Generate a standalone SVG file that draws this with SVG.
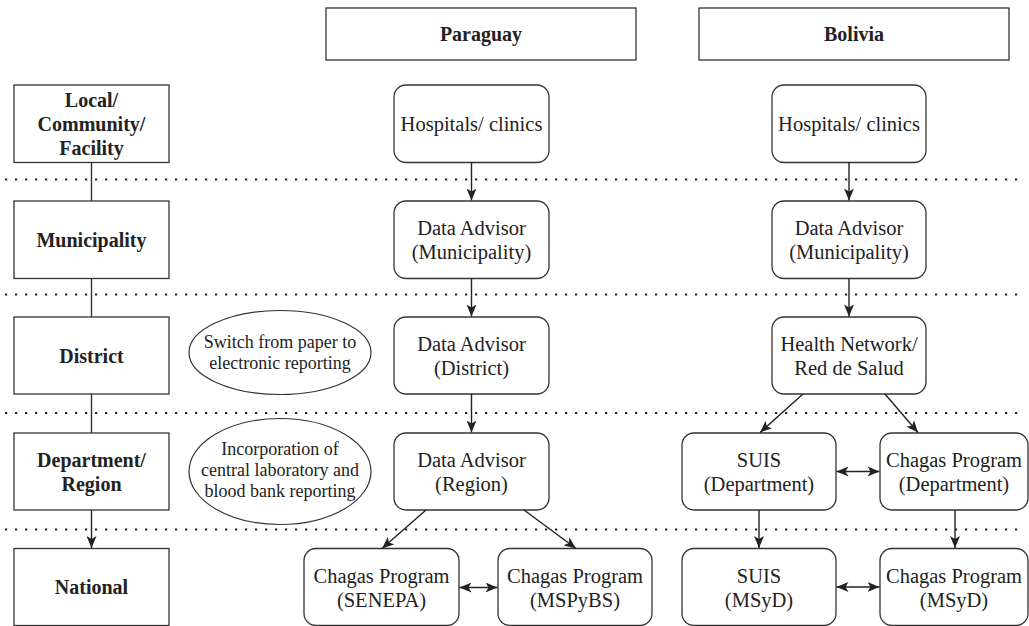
<svg xmlns="http://www.w3.org/2000/svg" width="1029" height="626" viewBox="0 0 1029 626">
<defs>
<style>
.hdr{fill:#fff;stroke:#333;stroke-width:1.3}
.nd{fill:#fff;stroke:#333;stroke-width:1.3}
.ell{fill:#fff;stroke:#333;stroke-width:1.2}
.t{font-family:"Liberation Serif","Times New Roman",serif;font-size:20.5px;fill:#222;text-anchor:middle}
.b{font-family:"Liberation Serif","Times New Roman",serif;font-size:20px;font-weight:bold;fill:#222;text-anchor:middle}
.s{font-family:"Liberation Serif","Times New Roman",serif;font-size:18px;fill:#222;text-anchor:middle}
.dot{stroke:#222;stroke-width:2.2;stroke-dasharray:2.2 7.8;fill:none}
.c{stroke:#333;stroke-width:1.4;fill:none}
.a{stroke:#222;stroke-width:1.4;fill:none;marker-end:url(#ah)}
.d{stroke:#222;stroke-width:1.4;fill:none;marker-end:url(#ah);marker-start:url(#ah2)}
</style>
<marker id="ah" viewBox="0 0 12 10" refX="12" refY="5" markerWidth="12" markerHeight="10" markerUnits="userSpaceOnUse" orient="auto">
<path d="M0,0 L12,5 L0,10 L3,5 Z" fill="#222"/>
</marker>
<marker id="ah2" viewBox="0 0 12 10" refX="12" refY="5" markerWidth="12" markerHeight="10" markerUnits="userSpaceOnUse" orient="auto-start-reverse">
<path d="M0,0 L12,5 L0,10 L3,5 Z" fill="#222"/>
</marker>
</defs>
<rect width="1029" height="626" fill="#fff"/>

<g id="separators">
<line class="dot" x1="5" y1="179.5" x2="1020" y2="179.5"/>
<line class="dot" x1="5" y1="294.5" x2="1020" y2="294.5"/>
<line class="dot" x1="5" y1="413" x2="1020" y2="413"/>
<line class="dot" x1="5" y1="529.5" x2="1020" y2="529.5"/>
</g>

<g id="header-paraguay"><rect class="hdr" x="326" y="8" width="310" height="52"/><text class="b" x="481" y="41">Paraguay</text></g>
<g id="header-bolivia"><rect class="hdr" x="699" y="8" width="310" height="52"/><text class="b" x="854" y="41">Bolivia</text></g>

<g id="level-local"><rect class="hdr" x="14" y="85" width="155" height="77.5"/><text class="b" x="91.5" y="107">Local/</text><text class="b" x="91.5" y="131">Community/</text><text class="b" x="91.5" y="155">Facility</text></g>
<g id="level-municipality"><rect class="hdr" x="14" y="201" width="155" height="77.5"/><text class="b" x="91.5" y="246.5">Municipality</text></g>
<g id="level-district"><rect class="hdr" x="14" y="317" width="155" height="77"/><text class="b" x="91.5" y="362.5">District</text></g>
<g id="level-department"><rect class="hdr" x="14" y="433" width="155" height="77"/><text class="b" x="91.5" y="467">Department/</text><text class="b" x="91.5" y="491">Region</text></g>
<g id="level-national"><rect class="hdr" x="14" y="548.5" width="155" height="77"/><text class="b" x="91.5" y="594">National</text></g>

<g id="note-switch"><ellipse class="ell" cx="280" cy="352.5" rx="91" ry="42"/><text class="s" x="280" y="348">Switch from paper to</text><text class="s" x="280" y="369">electronic reporting</text></g>
<g id="note-incorporation"><ellipse class="ell" cx="280" cy="471.5" rx="91" ry="53"/><text class="s" x="280" y="455">Incorporation of</text><text class="s" x="280" y="476">central laboratory and</text><text class="s" x="280" y="497">blood bank reporting</text></g>

<g id="py-hospitals"><rect class="nd" x="394" y="85" width="155" height="77.5" rx="12"/><text class="t" x="471.5" y="131">Hospitals/ clinics</text></g>
<g id="py-municipality"><rect class="nd" x="394" y="201" width="155" height="77.5" rx="12"/><text class="t" x="471.5" y="235">Data Advisor</text><text class="t" x="471.5" y="259">(Municipality)</text></g>
<g id="py-district"><rect class="nd" x="394" y="317" width="155" height="77" rx="12"/><text class="t" x="471.5" y="351">Data Advisor</text><text class="t" x="471.5" y="375">(District)</text></g>
<g id="py-region"><rect class="nd" x="394" y="433" width="155" height="77" rx="12"/><text class="t" x="471.5" y="467">Data Advisor</text><text class="t" x="471.5" y="491">(Region)</text></g>
<g id="py-senepa"><rect class="nd" x="304" y="548.5" width="155" height="77" rx="12"/><text class="t" x="381.5" y="583">Chagas Program</text><text class="t" x="381.5" y="607">(SENEPA)</text></g>
<g id="py-mspybs"><rect class="nd" x="498" y="548.5" width="154" height="77" rx="12"/><text class="t" x="575" y="583">Chagas Program</text><text class="t" x="575" y="607">(MSPyBS)</text></g>

<g id="bo-hospitals"><rect class="nd" x="772" y="85" width="154" height="77.5" rx="12"/><text class="t" x="849" y="131">Hospitals/ clinics</text></g>
<g id="bo-municipality"><rect class="nd" x="772" y="201" width="154" height="77.5" rx="12"/><text class="t" x="849" y="235">Data Advisor</text><text class="t" x="849" y="259">(Municipality)</text></g>
<g id="bo-healthnet"><rect class="nd" x="772" y="317" width="154" height="77" rx="12"/><text class="t" x="849" y="351">Health Network/</text><text class="t" x="849" y="375">Red de Salud</text></g>
<g id="bo-suis-dept"><rect class="nd" x="682" y="433" width="154" height="77" rx="12"/><text class="t" x="759" y="467">SUIS</text><text class="t" x="759" y="491">(Department)</text></g>
<g id="bo-chagas-dept"><rect class="nd" x="880" y="433" width="148" height="77" rx="12"/><text class="t" x="954" y="467">Chagas Program</text><text class="t" x="954" y="491">(Department)</text></g>
<g id="bo-suis-msyd"><rect class="nd" x="682" y="548.5" width="154" height="77" rx="12"/><text class="t" x="759" y="583">SUIS</text><text class="t" x="759" y="607">(MSyD)</text></g>
<g id="bo-chagas-msyd"><rect class="nd" x="880" y="548.5" width="148" height="77" rx="12"/><text class="t" x="954" y="583">Chagas Program</text><text class="t" x="954" y="607">(MSyD)</text></g>

<g id="connectors">
<line class="c" x1="91.5" y1="162.5" x2="91.5" y2="201"/>
<line class="c" x1="91.5" y1="278.5" x2="91.5" y2="317"/>
<line class="c" x1="91.5" y1="394" x2="91.5" y2="433"/>
<line class="a" x1="91.5" y1="510" x2="91.5" y2="548"/>

<line class="a" x1="471.5" y1="162.5" x2="471.5" y2="200.5"/>
<line class="a" x1="471.5" y1="278.5" x2="471.5" y2="316.5"/>
<line class="a" x1="471.5" y1="394" x2="471.5" y2="432.5"/>
<line class="a" x1="426" y1="510" x2="382" y2="548.5"/>
<line class="a" x1="524" y1="510" x2="576" y2="548.5"/>
<line class="d" x1="459.5" y1="587.5" x2="497.5" y2="587.5"/>

<line class="a" x1="849" y1="162.5" x2="849" y2="200.5"/>
<line class="a" x1="849" y1="278.5" x2="849" y2="316.5"/>
<line class="a" x1="803" y1="394" x2="760" y2="432.5"/>
<line class="a" x1="885" y1="394" x2="918" y2="432.5"/>
<line class="d" x1="836.5" y1="471.5" x2="879.5" y2="471.5"/>
<line class="a" x1="759" y1="510" x2="759" y2="548"/>
<line class="a" x1="955" y1="510" x2="955" y2="548"/>
<line class="d" x1="836.5" y1="587" x2="879.5" y2="587"/>
</g>
</svg>
